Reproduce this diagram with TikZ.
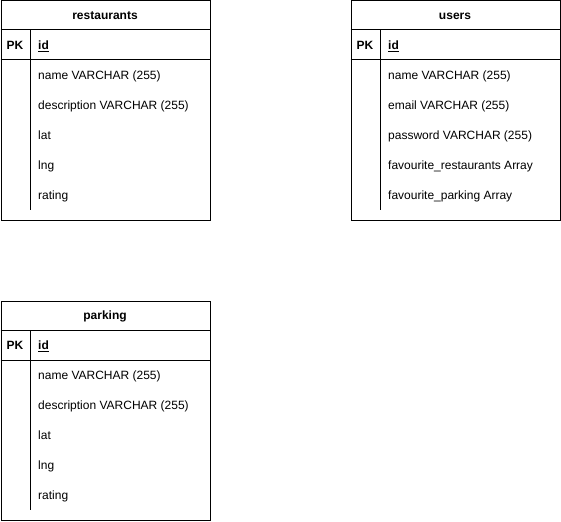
\documentclass[tikz,border=0pt]{standalone}
\usepackage{fontspec}
\setmainfont{Liberation Sans}
\tikzset{
  tbox/.style={draw, line width=1pt, minimum width=209.5pt, minimum height=219.5pt, inner sep=0pt, anchor=north west},
  sep/.style={line width=1pt},
  ttl/.style={font=\fontsize{12}{14}\selectfont\bfseries, inner sep=0pt, anchor=base},
  fld/.style={font=\fontsize{12}{14}\selectfont, inner sep=0pt, anchor=base west},
}
\newcommand\erdtable[5]{%
  \begin{scope}[shift={(#2,#3)}]
    \node[tbox] (#1) at (0.5,0.5) {};
    \node[ttl] (#1-title) at (105,19.5) {#4};
    \coordinate (#1-h1l) at (0.5,30);
    \coordinate (#1-h1r) at (210,30);
    \coordinate (#1-h2l) at (0.5,60);
    \coordinate (#1-h2r) at (210,60);
    \coordinate (#1-vt) at (30.5,30);
    \coordinate (#1-vb) at (30.5,210);
    \draw[sep] (#1-h1l) -- (#1-h1r);
    \draw[sep] (#1-h2l) -- (#1-h2r);
    \draw[sep] (#1-vt) -- (#1-vb);
    \node[ttl] (#1-pk) at (15,49.5) {PK};
    \node[fld, font=\fontsize{12}{14}\selectfont\bfseries] (#1-id) at (38,49.5) {\underline{id}};
    \foreach \t [count=\i] in {#5} {
      \node[fld] (#1-f\i) at (38,49.5+30*\i) {\t};
    }
  \end{scope}
}
\begin{document}
\begin{tikzpicture}[x=1pt,y=-1pt]
\useasboundingbox (0,0) rectangle (561,521);
\erdtable{rest}{0}{0}{restaurants}{name VARCHAR (255),description VARCHAR (255),lat,lng,rating}
\erdtable{users}{350}{0}{users}{name VARCHAR (255),email VARCHAR (255),password VARCHAR (255),favourite\_restaurants Array,favourite\_parking Array}
\erdtable{park}{0}{300}{parking}{name VARCHAR (255),description VARCHAR (255),lat,lng,rating}
\end{tikzpicture}
\end{document}
